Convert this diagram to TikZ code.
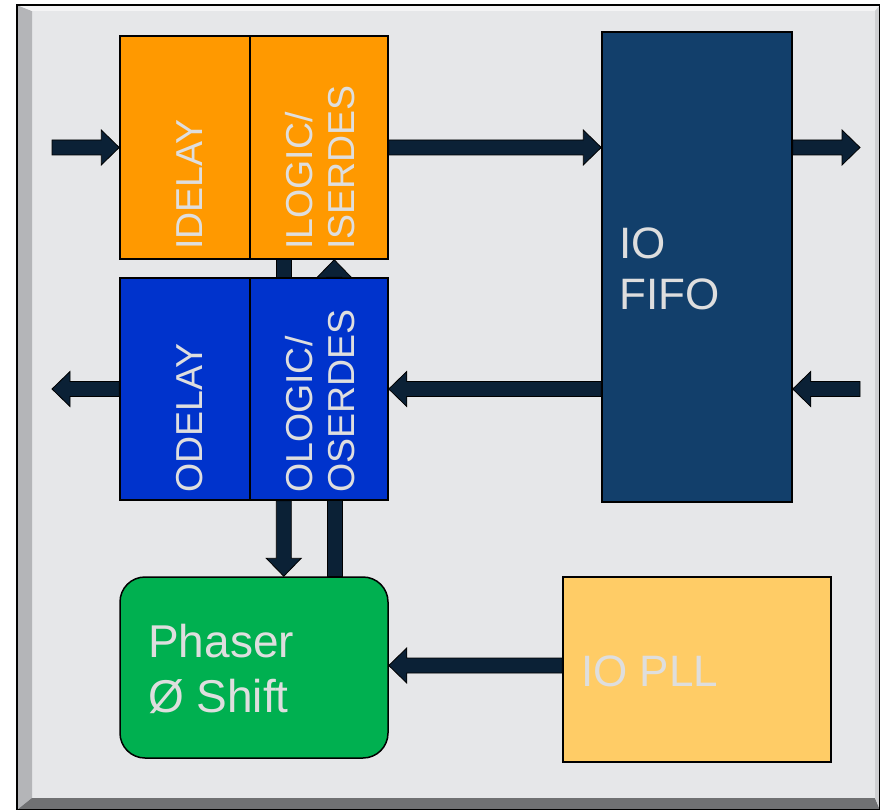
\documentclass[tikz,border=0pt]{standalone}
\usepackage{fontspec}
\setmainfont{Liberation Sans}
\usetikzlibrary{calc, positioning}
\definecolor{marble}{HTML}{E6E7E9}
\definecolor{bevel-left}{HTML}{B4B5B8}
\definecolor{bevel-top}{HTML}{F4F4F5}
\definecolor{bevel-bottom}{HTML}{707173}
\definecolor{bevel-right}{HTML}{CFD0D2}
\definecolor{idelay-fill}{HTML}{FF9900}
\definecolor{odelay-fill}{HTML}{0033CC}
\definecolor{fifo-fill}{HTML}{123F6B}
\definecolor{phaser-fill}{HTML}{00B050}
\definecolor{pll-fill}{HTML}{FFCC66}
\definecolor{arrow-fill}{HTML}{0B2136}
\definecolor{label-text}{HTML}{DEDEDE}
\tikzset{
  fpga-block/.style={
    draw=black, line width=1.5pt, inner sep=0pt
  },
  vert-label/.style={
    rotate=90, anchor=south west, inner sep=0pt, align=left,
    text=label-text, font=\fontsize{37.5}{42}\selectfont
  },
  horz-label/.style={
    anchor=north west, inner sep=0pt, align=left,
    text=label-text, font=\fontsize{44}{51}\selectfont
  },
  block-arrow/.style={
    draw=black, fill=arrow-fill, line width=0.8pt,
    to path={
      ($(\tikztostart)!7.5pt!90:(\tikztotarget)$)
      -- ($($(\tikztotarget)!18pt!(\tikztostart)$)!7.5pt!90:(\tikztotarget)$)
      -- ($($(\tikztotarget)!18pt!(\tikztostart)$)!17.5pt!90:(\tikztotarget)$)
      -- (\tikztotarget)
      -- ($($(\tikztotarget)!18pt!(\tikztostart)$)!17.5pt!-90:(\tikztotarget)$)
      -- ($($(\tikztotarget)!18pt!(\tikztostart)$)!7.5pt!-90:(\tikztotarget)$)
      -- ($(\tikztostart)!7.5pt!-90:(\tikztotarget)$)
      -- cycle
    }
  },
  block-bar/.style={
    draw=black, fill=arrow-fill, line width=0.8pt,
    to path={
      ($(\tikztostart)!7.5pt!90:(\tikztotarget)$)
      -- ($(\tikztotarget)!7.5pt!-90:(\tikztostart)$)
      -- ($(\tikztotarget)!7.5pt!90:(\tikztostart)$)
      -- ($(\tikztostart)!7.5pt!-90:(\tikztotarget)$)
      -- cycle
    }
  }
}

\begin{document}
\begin{tikzpicture}[x=1pt, y=-1pt]
  \useasboundingbox (0,0) rectangle (880,810);

  % marble panel with bevelled edge
  \fill[marble] (17,5) rectangle (880,810);
  \fill[bevel-left]   (17,5) -- (32,11) -- (32,798) -- (17,810) -- cycle;
  \fill[bevel-top]    (17,5) -- (880,5) -- (875,11) -- (32,11) -- cycle;
  \fill[bevel-bottom] (17,810) -- (32,798) -- (875,798) -- (880,810) -- cycle;
  \fill[bevel-right]  (880,5) -- (875,11) -- (875,798) -- (880,810) -- cycle;
  \draw[black, line width=1.5pt] (17,5) rectangle (880,810);

  % blocks
  \node[fpga-block, fill=idelay-fill, minimum width=130pt, minimum height=223pt] (idelay) at (185,147.5) {};
  \node[fpga-block, fill=idelay-fill, minimum width=138pt, minimum height=223pt] (ilogic) at (319,147.5) {};
  \node[fpga-block, fill=odelay-fill, minimum width=130pt, minimum height=222pt] (odelay) at (185,389) {};
  \node[fpga-block, fill=odelay-fill, minimum width=138pt, minimum height=222pt] (ologic) at (319,389) {};
  \node[fpga-block, fill=fifo-fill, minimum width=190pt, minimum height=470pt] (io-fifo) at (697,267) {};
  \node[fpga-block, fill=phaser-fill, rounded corners=25pt, minimum width=268pt, minimum height=181pt] (phaser) at (254,667.5) {};
  \node[fpga-block, fill=pll-fill, minimum width=268pt, minimum height=185pt] (io-pll) at (697,669.5) {};

  % labels
  \node[vert-label] (idelay-text) at (203,250) {IDELAY};
  \node[vert-label] (ilogic-text) at (355,250) {ILOGIC/\\ISERDES};
  \node[vert-label] (odelay-text) at (203,493) {ODELAY};
  \node[vert-label] (ologic-text) at (355,493) {OLOGIC/\\OSERDES};
  \node[horz-label] (fifo-text)   at (619,228) {IO\\FIFO};
  \node[horz-label, font=\fontsize{46}{55}\selectfont] (phaser-text) at (148,624) {Phaser\\Ø Shift};
  \node[horz-label] (pll-text)    at (581,656) {IO PLL};

  % free ends and taps
  \coordinate (in-left)   at (52,147.5);
  \coordinate (out-left)  at (52,389);
  \coordinate (fifo-out)  at (860,147.5);
  \coordinate (fifo-in)   at (860,389);
  \coordinate (tap-down)  at ($(ilogic.south west)+(34.5,0)$);
  \coordinate (tap-up)    at ($(ologic.north west)+(85,0)$);
  \coordinate (phase-in)  at ($(ologic.south west)+(34.5,0)$);
  \coordinate (phase-out) at ($(ologic.south west)+(86,0)$);
  \coordinate (pll-out)   at ($(io-pll.west)+(0,-4)$);

  % connectors
  \draw[block-arrow] (in-left) to (idelay.west);
  \draw[block-arrow] (ilogic.east) to (ilogic.east -| io-fifo.west);
  \draw[block-arrow] (io-fifo.east |- ilogic.east) to (fifo-out);
  \draw[block-arrow] (fifo-in) to (io-fifo.east |- ologic.east);
  \draw[block-arrow] (io-fifo.west |- ologic.east) to (ologic.east);
  \draw[block-arrow] (odelay.west) to (out-left);
  \draw[block-bar]   (tap-down) to (tap-down |- ologic.north);
  \draw[block-arrow] (tap-up) to (tap-up |- ilogic.south);
  \draw[block-arrow] (phase-in) to (phase-in |- phaser.north);
  \draw[block-bar]   (phase-out) to (phase-out |- phaser.north);
  \draw[block-arrow] (pll-out) to (pll-out -| phaser.east);
\end{tikzpicture}
\end{document}
